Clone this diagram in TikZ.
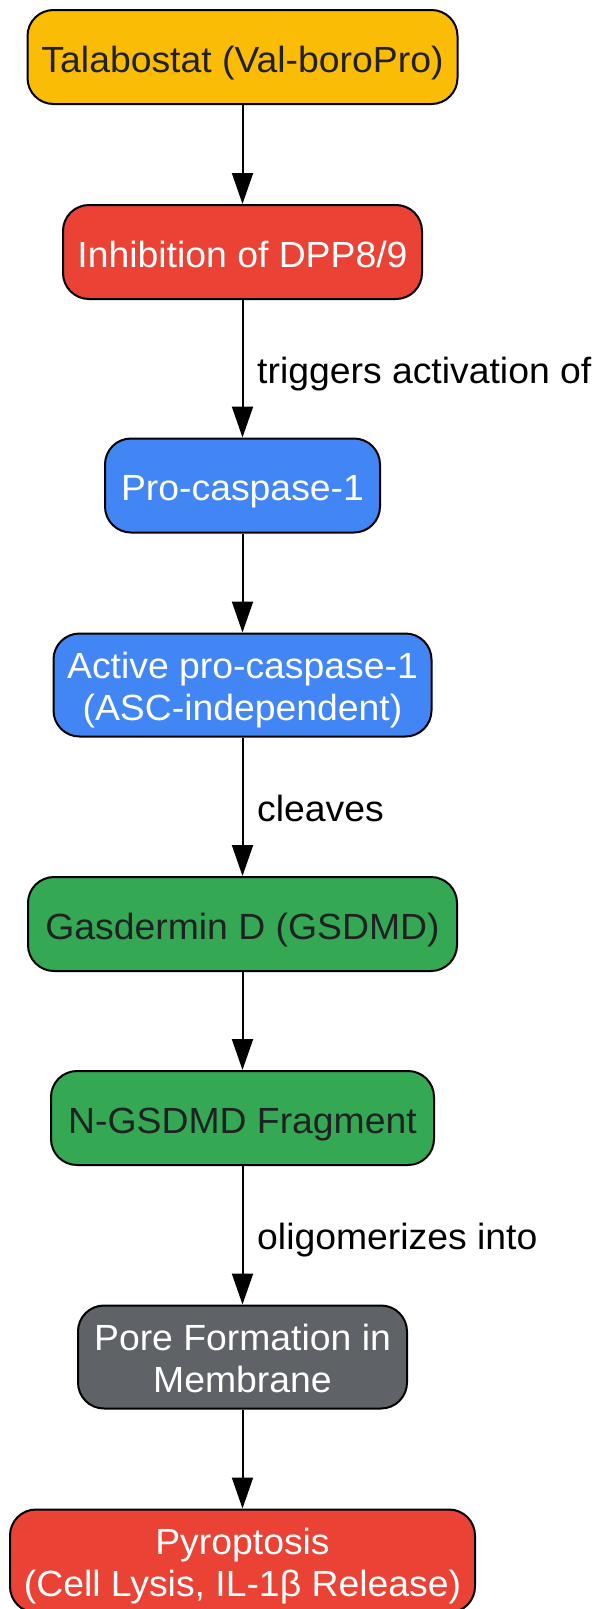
\documentclass[tikz,border=0pt]{standalone}
\usepackage{fontspec}
\setmainfont[FakeStretch=1.026]{Liberation Sans}
\usetikzlibrary{arrows.meta}
\definecolor{cyellow}{HTML}{FBBC05}
\definecolor{cred}{HTML}{EA4335}
\definecolor{cblue}{HTML}{4285F4}
\definecolor{cgreen}{HTML}{34A853}
\definecolor{cgrey}{HTML}{5F6368}
\definecolor{cdark}{HTML}{202124}
\newcommand{\bigfs}{\fontsize{36.4pt}{41.7pt}\selectfont}
\newcommand{\twol}[2]{\begin{tabular}[t]{@{}c@{}}#1\\#2\end{tabular}}
\begin{document}
\begin{tikzpicture}[x=1pt,y=-1pt,
  box/.style={draw=black, line width=2pt, rounded corners=26pt, inner sep=0pt,
    font=\bigfs, minimum height=94pt, text height=30pt, text depth=0pt},
  boxtwo/.style={box, minimum height=103pt, text height=0pt, text depth=13.4pt},
  arr/.style={draw=black, line width=2pt, -{Triangle[length=31pt,width=21pt]}},
  lbl/.style={font=\bigfs, inner sep=0pt, anchor=base west, text=black}]
\useasboundingbox (0,0) rectangle (596,1609);
\node[box, fill=cyellow, text=cdark, minimum width=430pt] (n1) at (242.5,57) {Talabostat (Val-boroPro)};
\node[box, fill=cred, text=white, minimum width=359pt] (n2) at (242.5,252) {Inhibition of DPP8/9};
\node[box, fill=cblue, text=white, minimum width=275pt] (n3) at (242.5,485.5) {Pro-caspase-1};
\node[boxtwo, fill=cblue, text=white, minimum width=378pt] (n4) at (242.5,685) {\twol{Active pro-caspase-1}{(ASC-independent)}};
\node[box, fill=cgreen, text=cdark, minimum width=429pt] (n5) at (242.5,924) {Gasdermin D (GSDMD)};
\node[box, fill=cgreen, text=cdark, minimum width=383pt] (n6) at (242.5,1118) {N-GSDMD Fragment};
\node[boxtwo, fill=cgrey, text=white, minimum width=329pt] (n7) at (242.5,1357) {\twol{Pore Formation in}{Membrane}};
\node[boxtwo, fill=cred, text=white, minimum width=465pt] (n8) at (242.5,1561) {\twol{Pyroptosis}{(Cell Lysis, IL-1β Release)}};
\draw[arr] (n1) -- (n2);
\draw[arr] (n2) -- (n3);
\draw[arr] (n3) -- (n4);
\draw[arr] (n4) -- (n5);
\draw[arr] (n5) -- (n6);
\draw[arr] (n6) -- (n7);
\draw[arr] (n7) -- (n8);
\node[lbl] (l1) at (257,383) {triggers activation of};
\node[lbl] (l2) at (257,821) {cleaves};
\node[lbl] (l3) at (257,1249) {oligomerizes into};
\end{tikzpicture}
\end{document}
